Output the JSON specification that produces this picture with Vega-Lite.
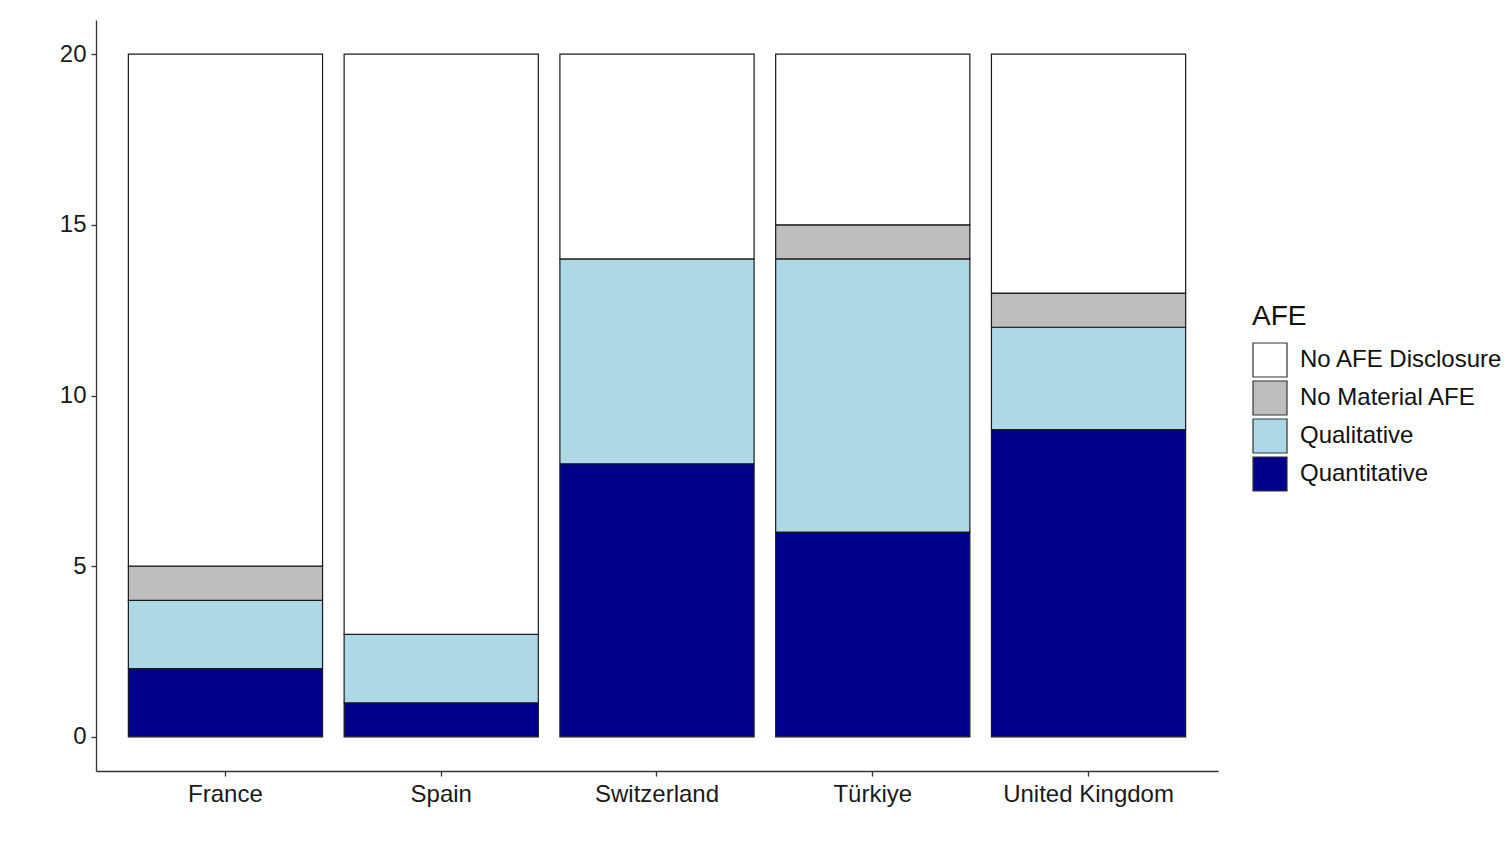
{
  "$schema": "https://vega.github.io/schema/vega-lite/v6.json",
  "autosize": {"type": "none"},
  "padding": {"left": 96, "top": 20, "right": 293, "bottom": 77},
  "width": 1122,
  "height": 751,
  "background": "white",
  "config": {
    "font": "Liberation Sans",
    "view": {"stroke": null},
    "axis": {
      "grid": false,
      "domainColor": "#333333",
      "domainWidth": 1.3,
      "tickColor": "#333333",
      "tickWidth": 1.3,
      "tickSize": 5,
      "labelFont": "Liberation Sans",
      "labelFontSize": 24,
      "labelColor": "#1a1a1a",
      "labelPadding": 5,
      "title": null
    },
    "legend": {
      "titleFont": "Liberation Sans",
      "labelFont": "Liberation Sans"
    }
  },
  "data": {
    "values": [
      {"country": "France", "AFE": "Quantitative", "count": 2},
      {"country": "France", "AFE": "Qualitative", "count": 2},
      {"country": "France", "AFE": "No Material AFE", "count": 1},
      {"country": "France", "AFE": "No AFE Disclosure", "count": 15},
      {"country": "Spain", "AFE": "Quantitative", "count": 1},
      {"country": "Spain", "AFE": "Qualitative", "count": 2},
      {"country": "Spain", "AFE": "No AFE Disclosure", "count": 17},
      {"country": "Switzerland", "AFE": "Quantitative", "count": 8},
      {"country": "Switzerland", "AFE": "Qualitative", "count": 6},
      {"country": "Switzerland", "AFE": "No AFE Disclosure", "count": 6},
      {"country": "Türkiye", "AFE": "Quantitative", "count": 6},
      {"country": "Türkiye", "AFE": "Qualitative", "count": 8},
      {"country": "Türkiye", "AFE": "No Material AFE", "count": 1},
      {"country": "Türkiye", "AFE": "No AFE Disclosure", "count": 5},
      {"country": "United Kingdom", "AFE": "Quantitative", "count": 9},
      {"country": "United Kingdom", "AFE": "Qualitative", "count": 3},
      {"country": "United Kingdom", "AFE": "No Material AFE", "count": 1},
      {"country": "United Kingdom", "AFE": "No AFE Disclosure", "count": 7}
    ]
  },
  "mark": {"type": "bar", "stroke": "#1a1a1a", "strokeWidth": 1.2},
  "encoding": {
    "x": {
      "field": "country",
      "type": "nominal",
      "sort": ["France", "Spain", "Switzerland", "Türkiye", "United Kingdom"],
      "scale": {"paddingInner": 0.1, "paddingOuter": 0.15},
      "axis": {"labelAngle": 0, "labelPadding": 6}
    },
    "y": {
      "field": "count",
      "type": "quantitative",
      "stack": "zero",
      "scale": {"domain": [-1, 21], "nice": false, "zero": false},
      "axis": {"values": [0, 5, 10, 15, 20]}
    },
    "color": {
      "field": "AFE",
      "type": "nominal",
      "scale": {
        "domain": ["No AFE Disclosure", "No Material AFE", "Qualitative", "Quantitative"],
        "range": ["#ffffff", "#bebebe", "#add8e6", "#00008b"]
      },
      "legend": {
        "title": "AFE",
        "orient": "none",
        "legendX": 1156,
        "legendY": 283,
        "padding": 0,
        "titleFontSize": 28,
        "titleFontWeight": "normal",
        "titleColor": "#111111",
        "titlePadding": 11,
        "labelFontSize": 24,
        "labelColor": "#111111",
        "labelOffset": 12,
        "labelLimit": 0,
        "symbolType": "square",
        "symbolSize": 1156,
        "symbolStrokeColor": "#333333",
        "symbolStrokeWidth": 1.2,
        "symbolOpacity": 1,
        "rowPadding": -4.6
      }
    },
    "order": {"field": "AFE", "type": "nominal", "sort": "descending"}
  }
}
